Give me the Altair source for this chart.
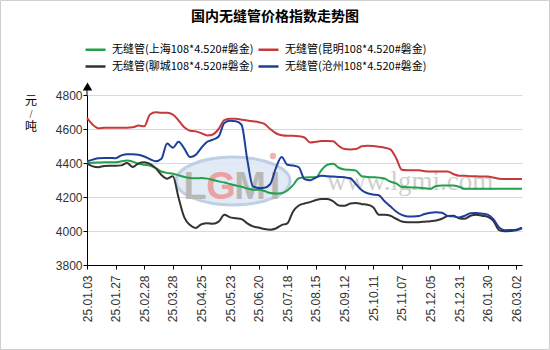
import altair as alt
import pandas as pd

title_text = "国内无缝管价格指数走势图"
unit_chars = ["元", "/", "吨"]
watermark_text = "www.lgmi.com"
logo_letters = ["L", "G", "M", "I"]
logo_colors = ["#b8b8b8", "#e9a3a3", "#b8b8b8", "#b8b8b8"]

series_names = [
    "无缝管(上海108*4.520#磐金)",
    "无缝管(昆明108*4.520#磐金)",
    "无缝管(聊城108*4.520#磐金)",
    "无缝管(沧州108*4.520#磐金)",
]
series_colors = ["#22a04b", "#c8393b", "#333333", "#1d3f9a"]

tick_labels = ["25.01.03", "25.01.27", "25.02.28", "25.03.28", "25.04.25", "25.05.23",
               "25.06.20", "25.07.18", "25.08.15", "25.09.12", "25.10.11", "25.11.07",
               "25.12.05", "25.12.31", "26.01.30", "26.03.02"]
y_ticks = [3800, 4000, 4200, 4400, 4600, 4800]

# position along the category axis (in label intervals)
pos = [round(0.2 * k, 1) for k in range(77)]

shanghai = [4400, 4402, 4403, 4404, 4405, 4405, 4410, 4415, 4408, 4395,
            4390, 4385, 4370, 4350, 4342, 4337, 4328, 4318, 4312, 4310,
            4312, 4308, 4300, 4292, 4285, 4276, 4268, 4260, 4250, 4243,
            4242, 4235, 4223, 4220, 4222, 4238, 4270, 4310, 4315, 4316,
            4316, 4360, 4390, 4395, 4372, 4362, 4360, 4355, 4322, 4318,
            4316, 4314, 4308, 4290, 4280, 4260, 4258, 4256, 4255, 4252,
            4248, 4265, 4267, 4267, 4267, 4260, 4248, 4248, 4248, 4248,
            4248, 4248, 4248, 4248, 4248, 4248, 4248]
kunming = [4665, 4625, 4605, 4607, 4608, 4608, 4608, 4608, 4610, 4620,
           4616, 4685, 4698, 4695, 4695, 4685, 4650, 4610, 4590, 4586,
           4575, 4562, 4568, 4600, 4652, 4660, 4660, 4655, 4650, 4645,
           4640, 4630, 4600, 4575, 4563, 4560, 4560, 4558, 4550, 4520,
           4525, 4530, 4530, 4528, 4500, 4482, 4480, 4482, 4498, 4502,
           4500, 4495, 4490, 4480, 4430, 4360, 4357, 4358, 4357, 4352,
           4350, 4350, 4350, 4350, 4335, 4325, 4325, 4322, 4322, 4320,
           4320, 4315, 4308, 4306, 4306, 4306, 4306]
liaocheng = [4396, 4380, 4375, 4383, 4384, 4384, 4386, 4400, 4376, 4398,
             4405, 4395, 4370, 4330, 4308, 4322, 4195, 4080, 4035, 4018,
             4040, 4045, 4043, 4055, 4095, 4080, 4075, 4070, 4045, 4027,
             4020, 4012, 4008, 4015, 4035, 4045, 4115, 4150, 4162, 4170,
             4182, 4188, 4188, 4175, 4150, 4148, 4162, 4165, 4158, 4155,
             4140, 4096, 4095, 4090, 4072, 4056, 4052, 4052, 4052, 4055,
             4058, 4062, 4072, 4088, 4090, 4075, 4072, 4090, 4096, 4090,
             4084, 4060, 4005, 3998, 4000, 4004, 4016]
cangzhou = [4410, 4420, 4428, 4430, 4430, 4428, 4445, 4452, 4452, 4448,
            4438, 4422, 4410, 4425, 4515, 4490, 4525, 4485, 4435, 4448,
            4490, 4525, 4537, 4556, 4635, 4648, 4645, 4625, 4420, 4262,
            4253, 4255, 4275, 4370, 4435, 4390, 4385, 4375, 4305, 4298,
            4315, 4325, 4322, 4320, 4318, 4316, 4310, 4275, 4240, 4222,
            4215, 4210, 4175, 4145, 4115, 4095, 4086, 4086, 4088, 4100,
            4108, 4110, 4108, 4088, 4086, 4080, 4090, 4105, 4106, 4102,
            4096, 4070, 4020, 4005, 4006, 4008, 4020]

rows = []
for name, vals in zip(series_names, [shanghai, kunming, liaocheng, cangzhou]):
    for p, v in zip(pos, vals):
        rows.append({"pos": p, "price": v, "series": name})
df = pd.DataFrame(rows)

label_expr = "[" + ",".join("'%s'" % t for t in tick_labels) + "][round(datum.value)]"

one = pd.DataFrame({"a": [0]})
CJK = "Noto Sans CJK SC"

border = alt.Chart(one).mark_rect(fillOpacity=0, stroke="#cfcfcf", strokeWidth=1).encode(
    x=alt.value(-86.5), x2=alt.value(462.5), y=alt.value(-94.5), y2=alt.value(254.5))

ellipse = alt.Chart(one).mark_point(
    shape="M-1,0A1,0.42,0,1,1,1,0A1,0.42,0,1,1,-1,0Z",
    filled=True, fill="#dfe8f4", stroke="#b9cbe4", strokeWidth=3, opacity=0.9, size=12996
).encode(x=alt.value(146), y=alt.value(86))

logo_layers = []
for i, (ch, col) in enumerate(zip(logo_letters, logo_colors)):
    logo_layers.append(
        alt.Chart(one).mark_text(text=ch, font="Liberation Sans", fontWeight="bold", fontSize=38,
                                 color=col, align="center", baseline="alphabetic")
        .encode(x=alt.value([108, 134, 163, 188][i]), y=alt.value(104))
    )
logo_dot = alt.Chart(one).mark_point(filled=True, color="#f0b4b4", size=40, opacity=1).encode(
    x=alt.value(186), y=alt.value(61))

wm = alt.Chart(one).mark_text(text=watermark_text, font="Liberation Serif", fontSize=27,
                              color="#cfcfcf", align="left", baseline="alphabetic").encode(
    x=alt.value(240), y=alt.value(95))

lines = alt.Chart(df).mark_line(interpolate="monotone", strokeWidth=2).encode(
    x=alt.X("pos:Q", title=None,
            scale=alt.Scale(domain=[0, 15.2], nice=False, zero=False),
            axis=alt.Axis(values=list(range(len(tick_labels))), labelExpr=label_expr,
                          labelAngle=-90, labelFont="Liberation Sans", labelFontSize=12,
                          labelColor="#333333", domainColor="#000000", tickColor="#000000",
                          tickSize=4, labelPadding=6, grid=False, labelOverlap=False)),
    y=alt.Y("price:Q", title=None,
            scale=alt.Scale(domain=[3800, 4800], nice=False, zero=False),
            axis=alt.Axis(values=y_ticks, labelFont="Liberation Sans", labelFontSize=12,
                          labelColor="#333333", domainColor="#000000", tickColor="#000000",
                          tickSize=4, labelPadding=1, grid=True, gridColor="#d9d9d9",
                          format="d")),
    color=alt.Color("series:N",
                    scale=alt.Scale(domain=series_names, range=series_colors),
                    legend=alt.Legend(orient="none", legendX=-3, legendY=-57, columns=2,
                                      direction="horizontal",
                                      title=None, symbolType="stroke", symbolSize=400,
                                      symbolStrokeWidth=2.5, labelFont=CJK, labelFontSize=11,
                                      labelColor="#000000", padding=0, rowPadding=-6,
                                      columnPadding=-1, labelOffset=5, labelLimit=300)),
)

arrow_line = alt.Chart(one).mark_rule(color="#000000", strokeWidth=1).encode(
    x=alt.value(0), y=alt.value(-8), y2=alt.value(0))
arrow = alt.Chart(one).mark_point(shape="triangle-up", filled=True, color="#000000",
                                  size=90, opacity=1).encode(x=alt.value(0.5), y=alt.value(-8.5))

title = alt.Chart(one).mark_text(text=title_text, font=CJK, fontSize=14, fontWeight="bold",
                                 color="#000000", align="center", baseline="middle").encode(
    x=alt.value(188), y=alt.value(-78))

unit_layers = []
for ch, yy, fs in zip(unit_chars, [6, 19, 32], [12, 8, 12]):
    unit_layers.append(
        alt.Chart(one).mark_text(text=ch, font=CJK, fontSize=fs, color="#000000",
                                 align="center", baseline="middle")
        .encode(x=alt.value(-56), y=alt.value(yy))
    )

chart = alt.layer(border, ellipse, *logo_layers, logo_dot, wm, lines, arrow_line, arrow,
                  title, *unit_layers).properties(
    width=435, height=170,
    autosize=alt.AutoSizeParams(type="none"),
    padding={"left": 87, "top": 95, "right": 28, "bottom": 85},
    background="#ffffff",
).configure_view(strokeWidth=0)

chart.save("out.html", embed_options={"renderer": "svg", "actions": False})
